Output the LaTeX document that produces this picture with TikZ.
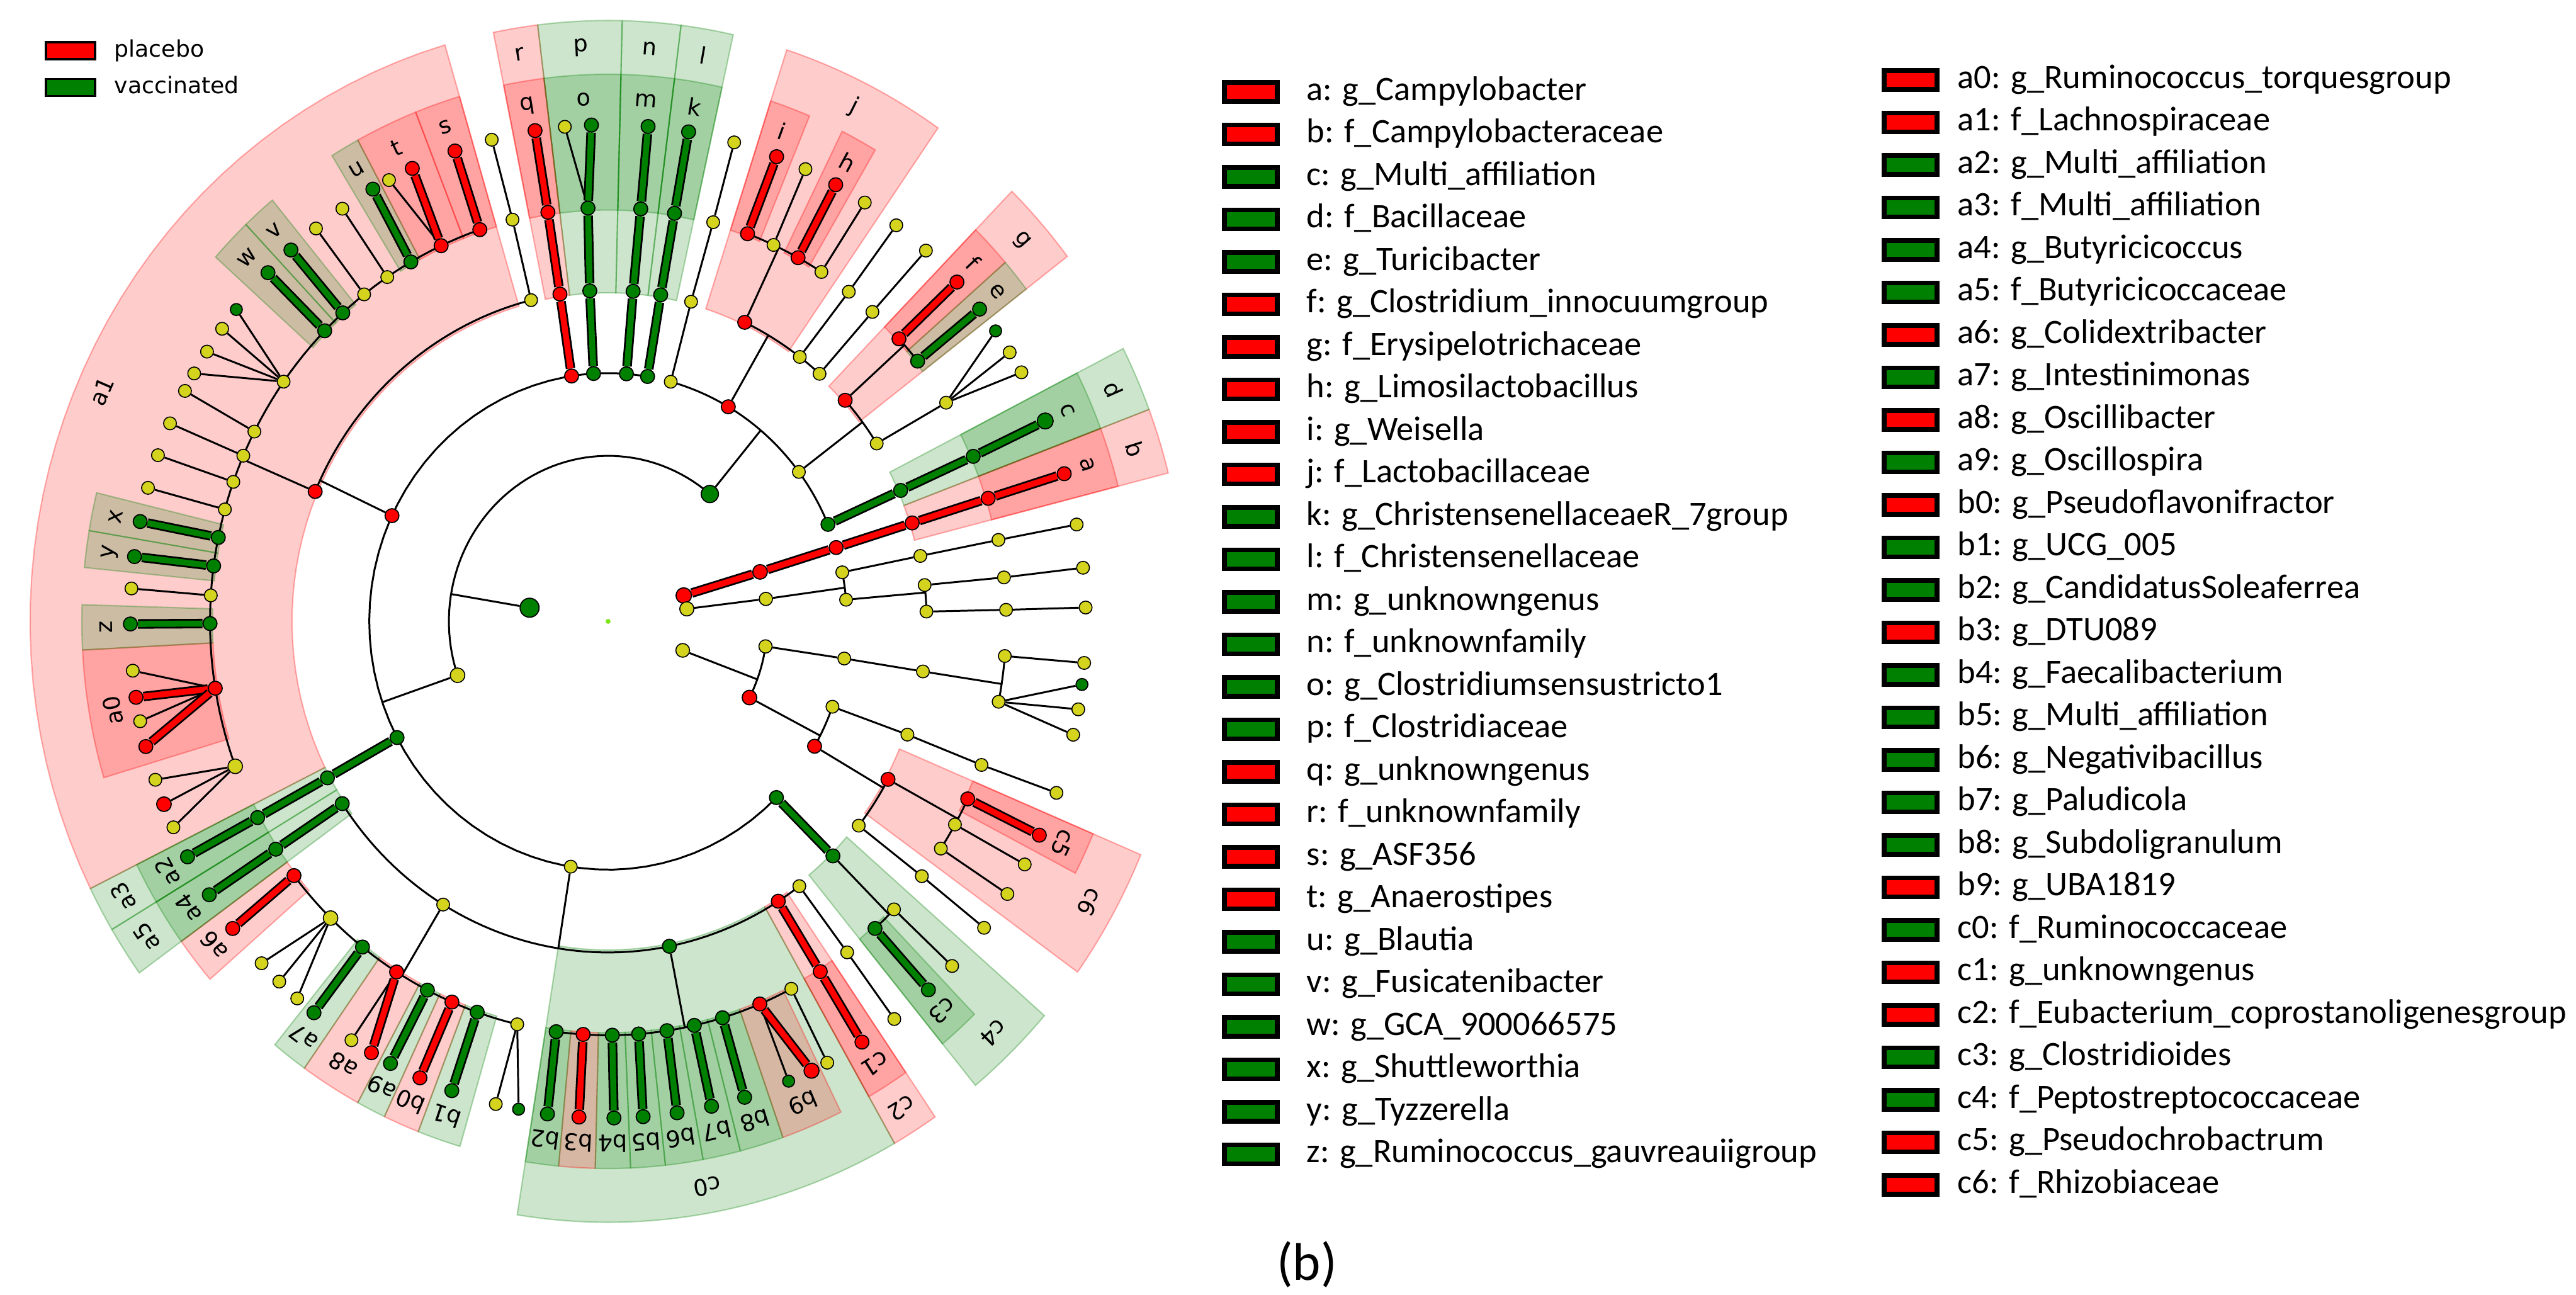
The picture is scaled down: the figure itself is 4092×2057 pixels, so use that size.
\documentclass[tikz,border=0pt]{standalone}
\usepackage{fontspec}
\setmainfont{Carlito}
\newfontfamily\djv{DejaVu Sans}
\pgfdeclarelayer{bgl}
\pgfdeclarelayer{sectors}
\pgfdeclarelayer{edges}
\pgfsetlayers{bgl,sectors,edges,main}
\definecolor{cR}{RGB}{255,0,0}
\definecolor{cG}{RGB}{0,128,0}
\definecolor{cY}{RGB}{212,212,30}
\tikzset{
 ny/.style={circle,draw=black,line width=0.45pt,fill=cY,inner sep=0pt,minimum size=5.8pt},
 nr/.style={circle,draw=black,line width=0.5pt,fill=cR,inner sep=0pt,minimum size=6.3pt},
 ngr/.style={circle,draw=black,line width=0.5pt,fill=cG,inner sep=0pt,minimum size=6.3pt},
 thinedge/.style={draw=black,line width=0.85pt},
 thkout/.style={draw=black,line width=4.3pt},
 thkin/.style={line width=2.7pt},
 sect/.style={fill=#1,fill opacity=0.2,draw=#1,draw opacity=0.3,line width=0.6pt},
 lab/.style={font=\djv\fontsize{10.4}{12}\selectfont,inner sep=0pt},
 legbox/.style={draw=black,line width=2.2pt,minimum width=0.84cm,minimum height=0.30cm,inner sep=0pt},
 legtxt/.style={anchor=west,inner sep=0pt,font=\fontsize{15.5}{18}\selectfont,text height=11pt,text depth=3.5pt},
}
\newcommand{\Yn}[4][]{\node[ny,#1] (#2) at (#3:#4) {};}
\newcommand{\Rn}[4][]{\node[nr,#1] (#2) at (#3:#4) {};}
\newcommand{\Gn}[4][]{\node[ngr,#1] (#2) at (#3:#4) {};}
\newcommand{\Lk}[2]{\draw[thinedge] (#1) -- (#2);}
\newcommand{\Thk}[3]{\draw[thkout] (#1) -- (#2); \draw[thkin,#3] (#1) -- (#2);}
\newcommand{\RadArc}[5]{\draw[thinedge] (#1) -- (#2:#3); \draw[thinedge] plot[domain=#4:#5,samples=60,variable=\t] (\t:#3);}
\newcommand{\Sctr}[5]{\path[#5] plot[domain=#1:#2,samples=40,variable=\t] (\t:#3) -- plot[domain=#2:#1,samples=40,variable=\t] (\t:#4) -- cycle;}
\newcommand{\FamS}[4]{%
 \begin{pgfonlayer}{sectors}\Sctr{#1}{#2}{3.97}{7.26}{sect=#3}\end{pgfonlayer}%
 \pgfmathsetmacro\midang{(#1+#2)/2}%
 \node[lab,rotate=\midang-90] (L#4) at (\midang:6.94) {#4};}
\newcommand{\GenS}[4]{%
 \begin{pgfonlayer}{sectors}\Sctr{#1}{#2}{4.97}{6.61}{sect=#3}\end{pgfonlayer}%
 \pgfmathsetmacro\midang{(#1+#2)/2}%
 \node[lab,rotate=\midang-90] (L#4) at (\midang:6.31) {#4};}
\begin{document}
\begin{tikzpicture}[x=0.01cm,y=-0.01cm]
\useasboundingbox (0,0) rectangle (4092,2057);
\begin{pgfonlayer}{bgl}\fill[white] (0,0) rectangle (4092,2057);\end{pgfonlayer}

% ---------- top-left key ----------
\node[draw=black,line width=1pt,fill=cR,minimum width=0.78cm,minimum height=0.27cm,inner sep=0pt] (kR) at (112,80.5) {};
\node[anchor=west,inner sep=0pt,font=\djv\fontsize{10.3}{12}\selectfont,text height=8pt,text depth=2.2pt] (kRt) at (181,80) {placebo};
\node[draw=black,line width=1pt,fill=cG,minimum width=0.78cm,minimum height=0.27cm,inner sep=0pt] (kG) at (112,139) {};
\node[anchor=west,inner sep=0pt,font=\djv\fontsize{10.3}{12}\selectfont,text height=8pt,text depth=2.2pt] (kGt) at (181,138) {vaccinated};

% ---------- right legend ----------
\foreach [count=\i from 0] \txt/\col in {a: g\_Campylobacter/cR, b: f\_Campylobacteraceae/cR, c: g\_Multi\_affiliation/cG, d: f\_Bacillaceae/cG, e: g\_Turicibacter/cG, f: g\_Clostridium\_innocuumgroup/cR, g: f\_Erysipelotrichaceae/cR, h: g\_Limosilactobacillus/cR, i: g\_Weisella/cR, j: f\_Lactobacillaceae/cR, k: g\_ChristensenellaceaeR\_7group/cG, l: f\_Christensenellaceae/cG, m: g\_unknowngenus/cG, n: f\_unknownfamily/cG, o: g\_Clostridiumsensustricto1/cG, p: f\_Clostridiaceae/cG, q: g\_unknowngenus/cR, r: f\_unknownfamily/cR, s: g\_ASF356/cR, t: g\_Anaerostipes/cR, u: g\_Blautia/cG, v: g\_Fusicatenibacter/cG, w: g\_GCA\_900066575/cG, x: g\_Shuttleworthia/cG, y: g\_Tyzzerella/cG, z: g\_Ruminococcus\_gauvreauiigroup/cG}{
  \pgfmathsetmacro\yy{146+67.5*\i}
  \node[legbox,fill=\col] (lbA\i) at (1987,\yy) {};
  \node[legtxt] (ltA\i) at (2075,\yy) {\txt};
}
\foreach [count=\i from 0] \txt/\col in {a0: g\_Ruminococcus\_torquesgroup/cR, a1: f\_Lachnospiraceae/cR, a2: g\_Multi\_affiliation/cG, a3: f\_Multi\_affiliation/cG, a4: g\_Butyricicoccus/cG, a5: f\_Butyricicoccaceae/cG, a6: g\_Colidextribacter/cR, a7: g\_Intestinimonas/cG, a8: g\_Oscillibacter/cR, a9: g\_Oscillospira/cG, b0: g\_Pseudoflavonifractor/cR, b1: g\_UCG\_005/cG, b2: g\_CandidatusSoleaferrea/cG, b3: g\_DTU089/cR, b4: g\_Faecalibacterium/cG, b5: g\_Multi\_affiliation/cG, b6: g\_Negativibacillus/cG, b7: g\_Paludicola/cG, b8: g\_Subdoligranulum/cG, b9: g\_UBA1819/cR, c0: f\_Ruminococcaceae/cG, c1: g\_unknowngenus/cR, c2: f\_Eubacterium\_coprostanoligenesgroup/cR, c3: g\_Clostridioides/cG, c4: f\_Peptostreptococcaceae/cG, c5: g\_Pseudochrobactrum/cR, c6: f\_Rhizobiaceae/cR}{
  \pgfmathsetmacro\yy{127+67.5*\i}
  \node[legbox,fill=\col] (lbB\i) at (3035,\yy) {};
  \node[legtxt] (ltB\i) at (3109,\yy) {\txt};
}
\node[font=\fontsize{24}{28}\selectfont,inner sep=0pt] (panel) at (2076,2008) {(b)};

% ---------- cladogram ----------
\begin{scope}[shift={(966,987)},x=1.26407cm,y=1.314cm]
\node[circle,fill=cY!60!green,inner sep=0pt,minimum size=2.2pt] (root) at (0:0) {};
% level 1
\Gn[minimum size=8.6pt]{F1}{170.5}{1}
\Rn[minimum size=7pt]{C1}{18.2}{1}
\Yn[minimum size=6.4pt]{X1}{8.7}{1}
\Yn[minimum size=6.2pt]{P1}{339.5}{1}
% level 2
\Gn[minimum size=7.8pt]{Ba2}{50.3}{2}
\Yn[minimum size=6.6pt]{Cl2}{199}{2}
\Rn[minimum size=6.6pt]{C2}{17.4}{2}
\Yn[minimum size=6pt]{X2}{7.8}{2}
\Yn[minimum size=6pt]{P2a}{351.3}{2}
\Rn[minimum size=6.6pt]{P2b}{332.6}{2}
% Campylobacterota chain
\Rn{C3}{17.3}{3} \Rn{Cb4}{17.3}{4} \Rn{Ca5}{17.3}{5} \Rn{Ca6}{17.3}{6}
% X branch
\Yn{X3a}{11.4}{3} \Yn{X4a}{11.4}{4} \Yn{X5a}{11.35}{5} \Yn{X6a}{11.25}{6}
\Yn{X3b}{5.0}{3} \Yn{X4b}{6.3}{4} \Yn{X5b}{6.1}{5} \Yn{X6b}{6.2}{6}
\Yn{X4c}{1.7}{4} \Yn{X5c}{1.6}{5} \Yn{X6c}{1.6}{6}
% P branch
\Yn{P3a}{351.4}{3} \Yn{P4a}{351.3}{4} \Yn{P5a}{355.2}{5} \Yn{P6a}{355.2}{6}
\Yn{P5b}{348.8}{5} \Gn[minimum size=5.4pt]{P6b}{352.7}{6} \Yn{P6c}{349.8}{6} \Yn{P6d}{346.8}{6}
\Yn{P3b}{339.9}{3} \Yn{P4b}{340}{4} \Yn{P5c}{339.7}{5} \Yn{P6e}{339.8}{6}
\Rn{P3c}{329.8}{3} \Rn{Pc6}{331.5}{4} \Yn{P4d}{321.9}{4}
\Rn{Pc5}{334.6}{5} \Rn{Pc5s}{334.5}{6}
\Yn{P5e}{330.6}{5} \Yn{P6g}{330.7}{6}
\Yn{P5f}{326.7}{5} \Yn{P6h}{326.7}{6}
\Yn{P5g}{322}{5} \Yn{P6i}{321.9}{6}
% Bacilli
\Yn{B3a}{74.8}{3} \Yn{B4a}{74.9}{4} \Yn{B5a}{74.7}{5} \Yn{B6a}{74.7}{6}
\Rn{Lac3}{59.8}{3}
\Rn{Bj4}{64.6}{4} \Yn{B4b}{53}{4} \Yn{B4c}{48.4}{4}
\Rn{Bi5}{69.5}{5} \Yn{J5b}{65.45}{5} \Rn{Bh5}{61.5}{5} \Yn{J5d}{57.6}{5}
\Rn{Bi6}{69.35}{6} \Yn{J6b}{65.6}{6} \Rn{Bh6}{61.55}{6} \Yn{J6d}{57.5}{6}
\Yn{B5b}{52.8}{5} \Yn{B6b}{52.9}{6} \Yn{B5c}{48.4}{5} \Yn{B6c}{48.3}{6}
\Yn{Ery3}{37}{3} \Rn{Bg4}{41.9}{4} \Yn{E4b}{32.5}{4}
\Rn{Bf5}{43.06}{5} \Gn{Be5}{38.97}{5} \Rn{Bf6}{43.1}{6} \Gn{Be6}{38.96}{6}
\Yn{E5b}{31.9}{5} \Gn[minimum size=5.4pt]{E6a}{35.8}{6} \Yn{E6b}{32.8}{6} \Yn{E6c}{30.1}{6}
\Gn{Bac3}{23}{3} \Gn{Bd4}{23.3}{4} \Gn{Bc5}{23.5}{5} \Gn[minimum size=7.2pt]{Bc6}{23.8}{6}
% Clostridia
\Gn{Ck3}{80.5}{3} \Gn{Cl4}{80.5}{4} \Gn{Ck5}{80.4}{5} \Gn{Ck6}{80.3}{6}
\Gn{Cm3}{85.6}{3} \Gn{Cn4}{85.5}{4} \Gn{Cm5}{85.3}{5} \Gn{Cm6}{85.2}{6}
\Gn{Co3}{93.5}{3} \Gn{Cp4}{93.3}{4} \Gn{Co5}{92.9}{5} \Gn{Co6}{92}{6} \Yn{CoY}{95.2}{6}
\Rn{Cq3}{98.8}{3} \Rn{Cr4}{98.7}{4} \Rn{Cq5}{98.7}{5} \Rn{Cq6}{98.8}{6}
\Rn{Lach3}{154.8}{3}
\Yn{LY4}{104}{4} \Yn{LY5}{103.9}{5} \Yn{LY6}{104.1}{6}
\Rn{Aa1}{156.9}{4}
\Rn{As5}{108.8}{5} \Rn{As6}{108.7}{6}
\Rn{At5}{114.8}{5} \Rn{At6}{114.2}{6} \Yn{AtY}{117.3}{6}
\Gn{Au5}{119.7}{5} \Gn{Au6}{119.5}{6}
\Yn{A5a}{123.7}{5} \Yn{A6a}{123.8}{6}
\Yn{A5b}{127.8}{5} \Yn{A6b}{127.7}{6}
\Gn{Av5}{131.8}{5} \Gn{Av6}{131.6}{6}
\Gn{Aw5}{135.4}{5} \Gn{Aw6}{135.4}{6}
\Yn{A5c}{144.6}{5} \Gn[minimum size=5.4pt]{A6c}{141.1}{6} \Yn{A6d}{143.9}{6} \Yn{A6e}{147.1}{6} \Yn{A6f}{150.05}{6}
\Yn{A5d}{152.7}{5} \Yn{A6g}{152.35}{6}
\Yn{A5e}{156.4}{5} \Yn{A6h}{156.5}{6}
\Yn{A5f}{160.3}{5} \Yn{A6i}{160.45}{6}
\Yn{A5g}{164.3}{5} \Yn{A6j}{164.4}{6}
\Gn{Ax5}{168.3}{5} \Gn{Ax6}{168.4}{6}
\Gn{Ay5}{172.3}{5} \Gn{Ay6}{172.5}{6}
\Yn{A5h}{176.4}{5} \Yn{A6k}{176.2}{6}
\Gn{Az5}{180.3}{5} \Gn{Az6}{180.3}{6}
\Rn{Aa0}{189.3}{5} \Yn{A6l}{185.7}{6} \Rn{A6m}{188.8}{6} \Yn{A6n}{191.6}{6} \Rn{A6o}{194.6}{6}
\Yn[minimum size=6.6pt]{A5i}{200.5}{5} \Yn{A6p}{198.6}{6} \Rn[minimum size=6.6pt]{A6q}{201.6}{6} \Yn{A6r}{204.5}{6}
\Gn{Aa3o}{207.9}{3} \Gn{Aa3}{208.2}{4} \Gn{Aa2}{208.3}{5} \Gn{Aa2s}{208.3}{6}
\Yn{Osc3}{261}{3}
\Gn{Aa5}{213.4}{4} \Gn{Aa4}{213.4}{5} \Gn{Aa4s}{213.4}{6}
\Yn{O4}{238.8}{4}
\Rn{Oa6}{217.9}{5} \Rn{Oa6s}{218.2}{6}
\Yn[minimum size=6.6pt]{O5a}{225.8}{5} \Yn{O6a}{223.5}{6} \Yn{O6b}{226.5}{6} \Yn{O6c}{229.4}{6}
\Gn{Oa7}{231.9}{5} \Gn{Oa7s}{232}{6}
\Rn{Oa8}{237.9}{5} \Rn{Oa8s}{240.3}{6} \Yn{O6d}{237.5}{6}
\Gn{Oa9}{243}{5} \Gn{Oa9s}{242.9}{6}
\Rn{Ob0}{246.9}{5} \Rn{Ob0s}{246.8}{6}
\Gn{Ob1}{250.8}{5} \Gn{Ob1s}{250.9}{6}
\Yn{O5b}{256.8}{5} \Yn{O6e}{256.4}{6} \Gn[minimum size=5.4pt]{O6f}{259.2}{6}
\Gn{Oc0}{281.1}{4}
\Gn{Ob2}{262.5}{5} \Gn{Ob2s}{262.7}{6}
\Rn{Ob3}{266.4}{5} \Rn{Ob3s}{266.5}{6}
\Gn{Ob4}{270.6}{5} \Gn{Ob4s}{270.7}{6}
\Gn{Ob5}{274.4}{5} \Gn{Ob5s}{274.2}{6}
\Gn{Ob6}{278.5}{5} \Gn{Ob6s}{278.3}{6}
\Gn{Ob7}{282.5}{5} \Gn{Ob7s}{282.5}{6}
\Gn{Ob8}{286.7}{5} \Gn{Ob8s}{286.6}{6}
\Rn{Ob9}{292.4}{5} \Rn[minimum size=6.8pt]{Ob9s}{295.2}{6} \Gn[minimum size=5.4pt]{Ob9g}{292.2}{6}
\Yn{O5c}{297.4}{5} \Yn{O6g}{297.3}{6}
\Rn{Oc2}{302.3}{4} \Rn{Oc1}{302.2}{5} \Rn{Oc1s}{302.1}{6}
\Yn{O4b}{306.9}{4} \Yn{O5d}{306.9}{5} \Yn{O6h}{306.8}{6}
\Gn{Cc4o}{314.8}{3} \Gn{Cc4}{314.9}{4}
\Gn{Cc3}{312.1}{5} \Gn{Cc3s}{312.1}{6}
\Yn{Cc5y}{315.9}{5} \Yn{Cc6y}{316.06}{6}

\begin{pgfonlayer}{edges}
\RadArc{F1}{170.5}{2}{50.3}{199}
\RadArc{Ba2}{50.3}{3}{23}{74.8}
\RadArc{Cl2}{199}{3}{80.5}{314.8}
\RadArc{Lac3}{59.8}{4}{48.4}{64.6}
\RadArc{Bj4}{64.6}{5}{57.6}{69.5}
\RadArc{Ery3}{37}{4}{32.5}{41.9}
\RadArc{Bg4}{41.9}{5}{38.97}{43.06}
\RadArc{X2}{7.8}{3}{5.0}{11.4}
\RadArc{X3b}{5.0}{4}{1.7}{6.3}
\RadArc{P1}{339.5}{2}{332.6}{351.3}
\RadArc{P4a}{351.3}{5}{348.8}{355.2}
\RadArc{P2b}{332.6}{3}{329.8}{339.9}
\RadArc{P3c}{329.8}{4}{321.9}{331.5}
\RadArc{Pc6}{331.5}{5}{326.7}{334.6}
\RadArc{Lach3}{154.8}{4}{104}{156.9}
\RadArc{Aa1}{156.9}{5}{108.8}{200.5}
\RadArc{Osc3}{261}{4}{213.4}{306.9}
\RadArc{O4}{238.8}{5}{217.9}{256.8}
\RadArc{Oc0}{281.1}{5}{262.5}{297.4}
\RadArc{Cc4}{314.9}{5}{312.1}{315.9}
\Lk{X1}{X2}
\Lk{X3a}{X4a} \Lk{X4a}{X5a} \Lk{X5a}{X6a}
\Lk{X4b}{X5b} \Lk{X5b}{X6b}
\Lk{X4c}{X5c} \Lk{X5c}{X6c}
\Lk{P2a}{P3a} \Lk{P3a}{P4a} \Lk{P5a}{P6a}
\Lk{P5b}{P6b} \Lk{P5b}{P6c} \Lk{P5b}{P6d}
\Lk{P3b}{P4b} \Lk{P4b}{P5c} \Lk{P5c}{P6e}
\Lk{P5e}{P6g} \Lk{P5f}{P6h}
\Lk{P4d}{P5g} \Lk{P5g}{P6i}
\Lk{B3a}{B4a} \Lk{B4a}{B5a} \Lk{B5a}{B6a}
\Lk{J5b}{J6b} \Lk{J5d}{J6d}
\Lk{B4b}{B5b} \Lk{B5b}{B6b} \Lk{B4c}{B5c} \Lk{B5c}{B6c}
\Lk{E4b}{E5b} \Lk{E5b}{E6a} \Lk{E5b}{E6b} \Lk{E5b}{E6c}
\Lk{Co5}{CoY}
\Lk{LY4}{LY5} \Lk{LY5}{LY6}
\Lk{At5}{AtY}
\Lk{A5a}{A6a} \Lk{A5b}{A6b}
\Lk{A5c}{A6c} \Lk{A5c}{A6d} \Lk{A5c}{A6e} \Lk{A5c}{A6f}
\Lk{A5d}{A6g} \Lk{A5e}{A6h} \Lk{A5f}{A6i} \Lk{A5g}{A6j} \Lk{A5h}{A6k}
\Lk{Aa0}{A6l} \Lk{Aa0}{A6n}
\Lk{A5i}{A6p} \Lk{A5i}{A6q} \Lk{A5i}{A6r}
\Lk{O5a}{O6a} \Lk{O5a}{O6b} \Lk{O5a}{O6c}
\Lk{Oa8}{O6d}
\Lk{O5b}{O6e} \Lk{O5b}{O6f}
\Lk{Ob9}{Ob9g}
\Lk{O5c}{O6g}
\Lk{O4b}{O5d} \Lk{O5d}{O6h}
\Lk{Cc5y}{Cc6y}
\Thk{C1}{C2}{cR} \Thk{C2}{C3}{cR} \Thk{C3}{Cb4}{cR} \Thk{Cb4}{Ca5}{cR} \Thk{Ca5}{Ca6}{cR}
\Thk{Pc5}{Pc5s}{cR}
\Thk{Bi5}{Bi6}{cR} \Thk{Bh5}{Bh6}{cR} \Thk{Bf5}{Bf6}{cR} \Thk{Be5}{Be6}{cG}
\Thk{Bac3}{Bd4}{cG} \Thk{Bd4}{Bc5}{cG} \Thk{Bc5}{Bc6}{cG}
\Thk{Ck3}{Cl4}{cG} \Thk{Cl4}{Ck5}{cG} \Thk{Ck5}{Ck6}{cG}
\Thk{Cm3}{Cn4}{cG} \Thk{Cn4}{Cm5}{cG} \Thk{Cm5}{Cm6}{cG}
\Thk{Co3}{Cp4}{cG} \Thk{Cp4}{Co5}{cG} \Thk{Co5}{Co6}{cG}
\Thk{Cq3}{Cr4}{cR} \Thk{Cr4}{Cq5}{cR} \Thk{Cq5}{Cq6}{cR}
\Thk{As5}{As6}{cR} \Thk{At5}{At6}{cR} \Thk{Au5}{Au6}{cG} \Thk{Av5}{Av6}{cG} \Thk{Aw5}{Aw6}{cG}
\Thk{Ax5}{Ax6}{cG} \Thk{Ay5}{Ay6}{cG} \Thk{Az5}{Az6}{cG}
\Thk{Aa0}{A6m}{cR} \Thk{Aa0}{A6o}{cR}
\Thk{Aa3o}{Aa3}{cG} \Thk{Aa3}{Aa2}{cG} \Thk{Aa2}{Aa2s}{cG}
\Thk{Aa5}{Aa4}{cG} \Thk{Aa4}{Aa4s}{cG}
\Thk{Oa6}{Oa6s}{cR} \Thk{Oa7}{Oa7s}{cG} \Thk{Oa8}{Oa8s}{cR} \Thk{Oa9}{Oa9s}{cG} \Thk{Ob0}{Ob0s}{cR} \Thk{Ob1}{Ob1s}{cG}
\Thk{Ob2}{Ob2s}{cG} \Thk{Ob3}{Ob3s}{cR} \Thk{Ob4}{Ob4s}{cG} \Thk{Ob5}{Ob5s}{cG} \Thk{Ob6}{Ob6s}{cG} \Thk{Ob7}{Ob7s}{cG} \Thk{Ob8}{Ob8s}{cG} \Thk{Ob9}{Ob9s}{cR}
\Thk{Oc2}{Oc1}{cR} \Thk{Oc1}{Oc1s}{cR}
\Thk{Cc4o}{Cc4}{cG} \Thk{Cc3}{Cc3s}{cG}
\end{pgfonlayer}

% ---------- highlighted clades ----------
\FamS{14.3}{20.65}{cR}{b}
\FamS{37.4}{45.7}{cR}{g}
\FamS{55.2}{72}{cR}{j}
\FamS{97}{101.45}{cR}{r}
\FamS{106.4}{206.4}{cR}{a1}
\FamS{299.7}{304.45}{cR}{c2}
\FamS{324.3}{337.15}{cR}{c6}
\FamS{20.65}{27}{cG}{d}
\FamS{77.5}{82.75}{cG}{l}
\FamS{82.75}{88.6}{cG}{n}
\FamS{88.6}{97}{cG}{p}
\FamS{206.4}{210.85}{cG}{a3}
\FamS{210.85}{215.8}{cG}{a5}
\FamS{260.95}{299.7}{cG}{c0}
\FamS{309.45}{319}{cG}{c4}
\GenS{14.3}{20.65}{cR}{a}
\GenS{41}{45.7}{cR}{f}
\GenS{59.5}{63.6}{cR}{h}
\GenS{67.5}{72}{cR}{i}
\GenS{97}{101.45}{cR}{q}
\GenS{106.4}{111.45}{cR}{s}
\GenS{111.45}{118.4}{cR}{t}
\GenS{183}{196.6}{cR}{a0}
\GenS{215.8}{220.85}{cR}{a6}
\GenS{234.75}{241.6}{cR}{a8}
\GenS{244.85}{248.85}{cR}{b0}
\GenS{264.6}{268.6}{cR}{b3}
\GenS{289.4}{296.25}{cR}{b9}
\GenS{299.7}{304.45}{cR}{c1}
\GenS{332.6}{337.15}{cR}{c5}
\GenS{20.65}{27}{cG}{c}
\GenS{37.4}{41}{cG}{e}
\GenS{77.5}{82.75}{cG}{k}
\GenS{82.75}{88.6}{cG}{m}
\GenS{88.6}{97}{cG}{o}
\GenS{118.4}{121.65}{cG}{u}
\GenS{129.65}{133.5}{cG}{v}
\GenS{133.5}{138.25}{cG}{w}
\GenS{166.4}{170.45}{cG}{x}
\GenS{170.45}{174.35}{cG}{y}
\GenS{178.25}{183}{cG}{z}
\GenS{206.4}{210.85}{cG}{a2}
\GenS{210.85}{215.8}{cG}{a4}
\GenS{230.7}{234.75}{cG}{a7}
\GenS{241.6}{244.85}{cG}{a9}
\GenS{248.85}{253.65}{cG}{b1}
\GenS{260.95}{264.6}{cG}{b2}
\GenS{268.6}{272.45}{cG}{b4}
\GenS{272.45}{276.25}{cG}{b5}
\GenS{276.25}{280.4}{cG}{b6}
\GenS{280.4}{284.55}{cG}{b7}
\GenS{284.55}{289.4}{cG}{b8}
\GenS{309.45}{314.1}{cG}{c3}
\end{scope}
\end{tikzpicture}
\end{document}
